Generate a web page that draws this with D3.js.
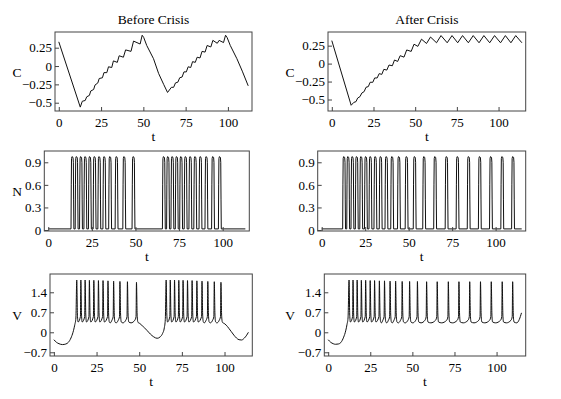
<!DOCTYPE html>
<html>
<head>
<meta charset="utf-8">
<script src="https://cdn.jsdelivr.net/npm/d3@7"></script>
<style>
  body { margin: 0; background: #fff; }
  svg { display: block; font-family: 'Liberation Serif', 'Times New Roman', serif; }
</style>
</head>
<body>
<div id="chart"></div>
<script>
// ---- data ----
const titles = ['Before Crisis', 'After Crisis'];
const xTicks = [0, 25, 50, 75, 100];
const cTicks = [-0.5, -0.25, 0, 0.25];
const nTicks = [0, 0.3, 0.6, 0.9];
const vTicks = [-0.7, 0, 0.7, 1.4];

// spike times (t) of the bursting / tonic trains
const spikesBefore = [13.4, 15.8, 18.3, 20.8, 23.4, 26.1, 28.8, 31.7, 35.0, 38.7, 43.1, 48.4,
                      65.8, 68.2, 70.7, 73.2, 75.7, 78.3, 81.0, 83.8, 86.8, 90.2, 94.0, 97.9];
const spikesAfter = [12.4, 14.75, 17.2, 19.7, 22.25, 24.95, 27.55, 30.4, 33.45, 36.75, 40.05, 43.95,
                     48.35, 53.0, 58.45, 64.75, 71.35, 77.65, 84.05, 90.45, 96.85, 103.35, 109.55];

// V peak heights of each spike
const peaksBefore = [1.83, 1.83, 1.83, 1.82, 1.82, 1.81, 1.81, 1.8, 1.79, 1.78, 1.77, 1.75,
                     1.83, 1.83, 1.83, 1.82, 1.82, 1.81, 1.81, 1.8, 1.79, 1.78, 1.77, 1.75];
const peaksAfter = [1.83, 1.83, 1.83, 1.82, 1.82, 1.81, 1.81, 1.8, 1.8, 1.79, 1.79, 1.78,
                    1.78, 1.78, 1.77, 1.77, 1.77, 1.77, 1.77, 1.77, 1.77, 1.77, 1.77];

// C traces
const cBefore = [[0, 0.33], [12.7, -0.56], [13.9, -0.48], [15.6, -0.47], [16.5, -0.42], [18.1, -0.40],
  [18.9, -0.34], [20.6, -0.32], [21.4, -0.26], [23.1, -0.23], [23.9, -0.17], [25.8, -0.16],
  [26.7, -0.09], [28.4, -0.09], [29.4, -0.01], [31.3, -0.02], [32.3, 0.07], [34.6, 0.05],
  [35.7, 0.14], [38.2, 0.12], [39.5, 0.22], [42.7, 0.20], [44.2, 0.34], [48.1, 0.30],
  [49.3, 0.42], [50.2, 0.39], [52, 0.28], [56, 0.10], [59, -0.10], [62, -0.25], [64.3, -0.36],
  [66.6, -0.29], [67.9, -0.29], [69.0, -0.23], [70.4, -0.22], [71.5, -0.16], [72.9, -0.15],
  [74.0, -0.08], [75.4, -0.08], [76.5, -0.01], [78.0, -0.02], [79.1, 0.06], [80.7, 0.05],
  [81.8, 0.12], [83.5, 0.11], [84.7, 0.20], [86.5, 0.19], [87.7, 0.28], [89.9, 0.26],
  [91.1, 0.35], [93.7, 0.31], [94.8, 0.35], [97.4, 0.32], [98.6, 0.42], [99.5, 0.39],
  [101.4, 0.28], [105.3, 0.10], [108.5, -0.07], [112, -0.27]];
const cAfter = [[0, 0.32], [11.6, -0.58], [13.2, -0.54], [14.5, -0.53], [15.5, -0.48], [16.9, -0.46],
  [18.0, -0.41], [19.4, -0.39], [20.5, -0.33], [21.9, -0.32], [23.0, -0.26], [24.6, -0.26],
  [25.7, -0.20], [27.2, -0.20], [28.4, -0.14], [30.0, -0.15], [31.2, -0.08], [33.0, -0.09],
  [34.3, -0.02], [36.3, -0.03], [37.6, 0.05], [39.5, 0.03], [41.0, 0.11], [43.3, 0.09],
  [44.9, 0.19], [47.6, 0.17], [49.3, 0.27], [51.6, 0.24], [53.8, 0.34], [56.8, 0.28],
  [59.2, 0.37], [62.8, 0.29], [65.5, 0.39], [69.2, 0.29], [72.1, 0.39], [75.5, 0.29],
  [78.4, 0.39], [81.9, 0.29], [84.8, 0.39], [88.3, 0.29], [91.2, 0.39], [94.7, 0.29],
  [97.6, 0.39], [101.2, 0.29], [104.1, 0.39], [107.4, 0.29], [110.3, 0.39], [114, 0.29]];

// slow (non-spiking) parts of V
const vSlowBefore = [[0, -0.26], [1.5, -0.35], [3, -0.40], [5, -0.43], [7, -0.41], [8.5, -0.35],
  [10, -0.2], [11.2, 0.0], [12.2, 0.25], [12.9, 0.5],
  [49.4, 0.34], [50.3, 0.31], [51.5, 0.25], [53, 0.16], [54.5, 0.07], [56.5, -0.06], [58.5, -0.16],
  [60.5, -0.21], [62.3, -0.16], [63.7, -0.04], [64.7, 0.15], [65.3, 0.45],
  [98.9, 0.34], [99.8, 0.31], [101, 0.25], [102.5, 0.14], [104, 0.02], [105.5, -0.1], [107, -0.2],
  [108.5, -0.26], [110, -0.27], [111.5, -0.21], [113, -0.1], [114, 0.0]];
const vSlowAfter = [[0, -0.26], [1.5, -0.35], [3, -0.40], [4.3, -0.42], [6, -0.41], [7.5, -0.36],
  [9.2, -0.17], [10.4, 0.05], [11.2, 0.28], [11.8, 0.5],
  [112, 0.33], [113.5, 0.45], [114.8, 0.68]];

const nBase = 0.015;

// ---- build traces ----
function vTrace(spikes, peaks, slow) {
  const pts = slow.slice();
  spikes.forEach((s, i) => {
    const next = spikes[i + 1];
    const gap = next !== undefined ? next - s : Infinity;
    if (i > 0 && s - spikes[i - 1] < 10) pts.push([s - 0.25, 0.55]);
    pts.push([s, peaks[i]]);
    pts.push([s + 0.4, 0.6]);
    pts.push([s + 0.8, 0.36]);
    if (gap > 3 && gap < 10) {
      pts.push([s + 0.4 * gap, 0.33]);
      pts.push([next - 1.0, 0.42]);
    }
  });
  return pts.sort((a, b) => a[0] - b[0]);
}

function nTrace(spikes, tEnd) {
  const pts = [[0, nBase]];
  spikes.forEach(s => {
    pts.push([s - 0.35, nBase], [s - 0.2, 0.6], [s - 0.05, 0.95], [s + 0.2, 0.975],
             [s + 0.8, 0.965], [s + 1.0, 0.9], [s + 1.15, 0.4], [s + 1.3, nBase]);
  });
  pts.push([tEnd, nBase]);
  return pts;
}

const W = 561, H = 399;
const svg = d3.select('#chart').append('svg').attr('width', W).attr('height', H);

const panels = [
  {pts: cBefore, tEnd: 112, y: [-0.613, 0.464], ticks: cTicks, box: [55, 32, 252, 111], label: 'C', lx: 17},
  {pts: cAfter, tEnd: 114, y: [-0.66, 0.44], ticks: cTicks, box: [328, 32, 525.7, 111], label: 'C', lx: 290},
  {pts: nTrace(spikesBefore, 113), tEnd: 113, y: [-0.013, 1.05], ticks: nTicks, box: [44.3, 151, 249.3, 231], label: 'N', lx: 17},
  {pts: nTrace(spikesAfter, 115), tEnd: 115, y: [-0.013, 1.05], ticks: nTicks, box: [317.7, 151, 525.7, 231], label: null},
  {pts: vTrace(spikesBefore, peaksBefore, vSlowBefore), tEnd: 114, y: [-0.83, 2.04], ticks: vTicks, box: [50, 274, 252.3, 356], label: 'V', lx: 17, smooth: true},
  {pts: vTrace(spikesAfter, peaksAfter, vSlowAfter), tEnd: 115, y: [-0.83, 2.04], ticks: vTicks, box: [324.3, 274, 525.7, 356], label: 'V', lx: 290, smooth: true}
];

const fmt = d => String(d).replace('-', '\u2212');

panels.forEach((p, i) => {
  const [x0, y0, x1, y1] = p.box;
  const w = x1 - x0, h = y1 - y0;
  const pad = 0.02 * p.tEnd;
  const x = d3.scaleLinear().domain([-pad, p.tEnd + pad]).range([0, w]);
  const y = d3.scaleLinear().domain(p.y).range([h, 0]);

  const g = svg.append('g').attr('transform', `translate(${x0},${y0})`);

  g.append('clipPath').attr('id', 'clip' + i)
    .append('rect').attr('width', w).attr('height', h);

  const line = d3.line()
    .x(d => x(d[0]))
    .y(d => y(d[1]))
    .curve(p.smooth ? d3.curveMonotoneX : d3.curveLinear);

  g.append('path')
    .datum(p.pts)
    .attr('clip-path', `url(#clip${i})`)
    .attr('fill', 'none')
    .attr('stroke', '#111')
    .attr('stroke-width', 1)
    .attr('stroke-linejoin', 'round')
    .attr('d', line);

  // axes, ticks pointing inward
  const xa = g.append('g').attr('transform', `translate(0,${h})`)
    .call(d3.axisBottom(x).tickValues(xTicks).tickSizeInner(-4).tickSizeOuter(0).tickPadding(5).tickFormat(fmt));
  const ya = g.append('g')
    .call(d3.axisLeft(y).tickValues(p.ticks).tickSizeInner(-4).tickSizeOuter(0).tickPadding(3).tickFormat(fmt));
  [xa, ya].forEach(a => {
    a.select('.domain').remove();
    a.selectAll('line').attr('stroke', '#444');
    a.selectAll('text').attr('fill', '#000').style('font-size', '13px')
      .style('font-family', "'Liberation Serif', 'Times New Roman', serif");
  });
  xa.selectAll('text').attr('dy', '0.71em').attr('y', 7);

  g.append('rect').attr('width', w).attr('height', h)
    .attr('fill', 'none').attr('stroke', '#444').attr('stroke-width', 1);

  // axis labels
  g.append('text').attr('x', w / 2).attr('y', h + 30)
    .attr('text-anchor', 'middle').style('font-size', '13.5px').text('t');
  if (p.label) {
    svg.append('text').attr('x', p.lx).attr('y', y0 + h / 2 + 5)
      .attr('text-anchor', 'middle').style('font-size', '13.5px').text(p.label);
  }
  if (i < 2) {
    svg.append('text').attr('x', x0 + w / 2).attr('y', 24)
      .attr('text-anchor', 'middle').style('font-size', '13.5px').text(titles[i]);
  }
});
</script>
</body>
</html>
